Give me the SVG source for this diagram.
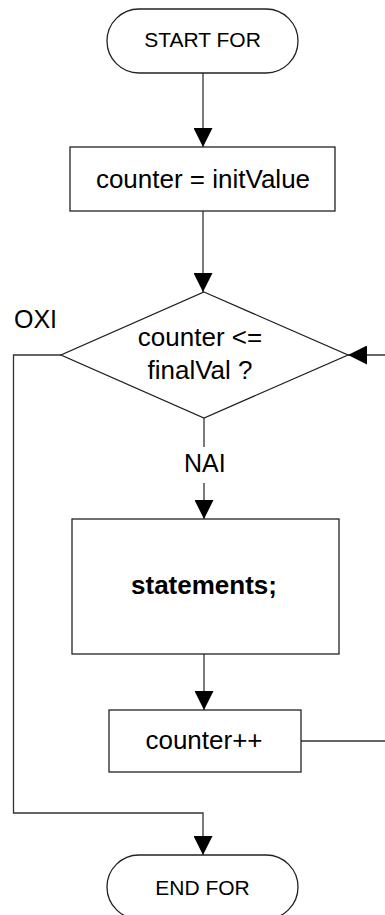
<svg xmlns="http://www.w3.org/2000/svg" width="385" height="915" viewBox="0 0 385 915">
  <defs>
    <marker id="arrow" markerWidth="19" markerHeight="19" refX="19" refY="9.5" orient="auto" markerUnits="userSpaceOnUse">
      <path d="M0,0 L19,9.5 L0,19 Z" fill="#000"/>
    </marker>
  </defs>
  <style>
    .shape { fill: #fff; stroke: #222; stroke-width: 1.3; }
    .wire { fill: none; stroke: #333; stroke-width: 1.3; }
    text { font-family: "Liberation Sans", Arial, sans-serif; fill: #000; }
    .term { font-size: 21px; text-anchor: middle; }
    .body { font-size: 26px; text-anchor: middle; }
    .bold { font-size: 26px; font-weight: bold; text-anchor: middle; }
    .lbl { font-size: 25px; }
  </style>

  <!-- connectors -->
  <g id="connectors">
    <line class="wire" x1="203" y1="73" x2="203" y2="147" marker-end="url(#arrow)"/>
    <line class="wire" x1="203" y1="211" x2="203" y2="292" marker-end="url(#arrow)"/>
    <line class="wire" x1="204" y1="418" x2="204" y2="447"/>
    <line class="wire" x1="204" y1="483" x2="204" y2="519" marker-end="url(#arrow)"/>
    <line class="wire" x1="204" y1="654" x2="204" y2="710" marker-end="url(#arrow)"/>
    <!-- loop back from counter++ to the condition -->
    <polyline class="wire" points="301,741 386,741 386,355"/>
    <line class="wire" x1="386" y1="355" x2="348" y2="355" marker-end="url(#arrow)"/>
    <!-- exit branch -->
    <polyline class="wire" points="61,355 13.5,355 13.5,813 203,813 203,855" marker-end="url(#arrow)"/>
    <text class="lbl" x="14" y="328">OXI</text>
    <text class="lbl" x="184" y="472">NAI</text>
  </g>

  <g id="start">
    <rect class="shape" x="107" y="9" width="191" height="64" rx="32" ry="32"/>
    <text class="term" x="202.5" y="47">START FOR</text>
  </g>

  <g id="init">
    <rect class="shape" x="70" y="147" width="265" height="64"/>
    <text class="body" x="203" y="188">counter = initValue</text>
  </g>

  <g id="condition">
    <polygon class="shape" points="204,292 348,355 204,418 61,355"/>
    <text class="body" x="200" y="346">counter &lt;=</text>
    <text class="body" x="200" y="379">finalVal ?</text>
  </g>

  <g id="statements">
    <rect class="shape" x="72" y="519" width="267" height="135"/>
    <text class="bold" x="204" y="594">statements;</text>
  </g>

  <g id="increment">
    <rect class="shape" x="109" y="710" width="192" height="62"/>
    <text class="body" x="204" y="749">counter++</text>
  </g>

  <g id="end">
    <rect class="shape" x="107" y="855" width="191" height="64" rx="32" ry="32"/>
    <text class="term" x="202.5" y="895">END FOR</text>
  </g>
</svg>
